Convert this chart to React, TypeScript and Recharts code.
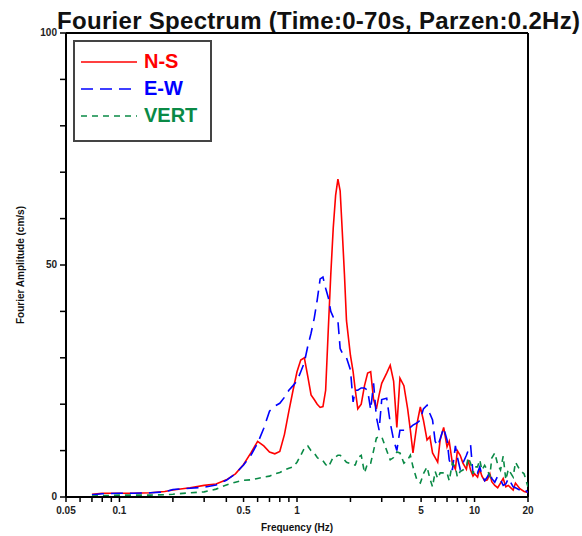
import { LineChart, Line, XAxis, YAxis, ReferenceLine, Legend, Label } from 'recharts'

const freq = [
  0.07, 0.08, 0.1, 0.12, 0.15, 0.18, 0.2, 0.25, 0.3, 0.35, 0.4, 0.45, 0.5, 0.55, 0.6, 0.65, 0.7, 0.75, 0.8,
  0.85, 0.9, 0.95, 1.0, 1.05, 1.1, 1.15, 1.2, 1.25, 1.3, 1.35, 1.4, 1.45, 1.5, 1.55, 1.6, 1.65, 1.7, 1.75,
  1.8, 1.85, 1.9, 2.0, 2.07, 2.13, 2.2, 2.3, 2.4, 2.5, 2.6, 2.7, 2.8, 2.9, 3.0, 3.2, 3.35, 3.5, 3.65, 3.8,
  4.0, 4.2, 4.35, 4.5, 4.75, 4.95, 5.15,
  5.4, 5.6, 5.8, 6.0, 6.2, 6.4, 6.7, 7.0, 7.2, 7.5, 7.8, 8.0, 8.3, 8.6, 9.0, 9.2, 9.5, 9.8, 10, 10.4,
  10.7, 11, 11.4, 11.8, 12.2, 12.5, 13, 13.5, 14, 14.5, 15, 15.5, 16.5, 17, 18, 19, 20,
]

const nsAmp = [
  0.6, 0.8, 0.8, 0.8, 0.9, 1.2, 1.5, 2.0, 2.5, 2.8, 3.7, 5, 7, 9.5, 12, 11, 9.7, 9.3, 9.8,
  13.5, 18.5, 23, 27, 29.5, 30, 26, 22, 21, 20, 19.3, 19.5, 23, 36, 48, 58, 65, 68.5, 66,
  57, 48, 38, 30.5, 27, 23, 19, 20, 24, 26.7, 27, 21, 19, 22, 24.5, 26.7, 28.4, 25, 15, 25.6,
  24, 19, 14.4, 9.5, 16, 19.4, 16.6,
  12.3, 13, 9.5, 8.5, 7.5, 12.3, 15, 10.8, 12, 7.3, 6, 10, 9, 7.3, 6, 8, 5.8, 4.5, 5, 4.3,
  6, 4.5, 3.5, 3.7, 5, 3.3, 2.5, 2, 3, 4, 2.2, 2.5, 1.5, 3, 1.8, 1.2, 1,
]

const ewAmp = [
  0.5, 0.7, 0.8, 0.8, 0.9, 1.1, 1.6, 1.9, 2.1, 2.6, 3.6, 5, 6.9, 9, 11.6, 14.8, 18.5, 19.6, 20.2,
  21.5, 23, 24, 25, 27, 29, 32.5, 35.3, 38.5, 42.5, 47, 47.4, 45, 43, 40, 38.8, 38.3, 38, 32,
  31, 30.5, 30, 27.4, 20.5, 23, 23, 23.5, 23.5, 23, 18.8, 24.5, 17.2, 14.4, 21, 21.3, 16, 12.3, 10, 14.4,
  14.4, 14.4, 15, 15.5, 16, 16.6, 19,
  19.8, 18, 16.6, 12, 11, 12.5, 14.9, 12.3, 8, 5.8, 11, 8.6, 6, 7.3, 9, 10, 11.2, 5, 6, 5.2,
  6.5, 4.8, 3.5, 4.3, 5.5, 4, 3.2, 4.5, 3.7, 2.5, 2.8, 4, 2.2, 2, 1.5, 1.8, 0.9,
]

const vertAmp = [
  0.2, 0.3, 0.4, 0.4, 0.4, 0.5, 0.6, 0.9, 1.1, 1.7, 2.6, 3.2, 3.6, 3.7, 4.0, 4.3, 4.5, 5.0, 5.3,
  5.8, 6.2, 6.5, 7.5, 9, 10.5, 11, 10, 9.5, 8.5, 8, 7.8, 7, 6.5, 7.5, 8.6, 8.6, 9, 9,
  8.5, 8, 7.5, 7.2, 6.9, 6.9, 8.5, 9, 5.2, 7.3, 7.3, 10, 12.7, 13, 13, 10, 8, 8.5, 9.7, 9.5,
  7.3, 8, 9, 6.5, 3.5, 3, 5,
  6.5, 4, 2.2, 5.5, 4, 5.2, 5.2, 5.2, 3.5, 7.3, 6.5, 4.3, 5.5, 5.8, 6.5, 8.5, 7.3, 5, 6.5, 6.5,
  8, 5.8, 6.8, 5.8, 4.5, 8.4, 9.5, 7, 5.8, 8.8, 3.7, 6, 4.3, 7.5, 5.8, 5, 2.2,
]

const xTicks = [
  0.05, 0.06, 0.07, 0.08, 0.09, 0.1, 0.2, 0.3, 0.4, 0.5, 0.6, 0.7, 0.8, 0.9, 1, 2, 3, 4, 5, 6, 7, 8, 9, 10, 20,
]
const xLabels = [0.05, 0.1, 0.5, 1, 5, 10, 20]
const yTicks = [0, 10, 20, 30, 40, 50, 60, 70, 80, 90, 100]
const yLabels = [0, 50, 100]

const seriesInfo = [
  { key: 'ns', name: 'N-S', color: '#ff0000', dash: undefined },
  { key: 'ew', name: 'E-W', color: '#0000ff', dash: '12 7' },
  { key: 'vert', name: 'VERT', color: '#0a8a46', dash: '6 5' },
]

const data = freq.map((f, i) => ({ f, ns: nsAmp[i], ew: ewAmp[i], vert: vertAmp[i] }))

const tickFont = { fontFamily: 'Liberation Sans, Arial, sans-serif', fontSize: 10, fontWeight: 700, fill: '#222' }

const XTick = ({ x, y, payload }: any) => (
  <g>
    <line x1={x} y1={y} x2={x} y2={y + 5} stroke="#000" strokeWidth={1.5} />
    {xLabels.includes(payload.value) && (
      <text x={x} y={y + 17} textAnchor="middle" {...tickFont}>
        {String(payload.value)}
      </text>
    )}
  </g>
)

const YTick = ({ x, y, payload }: any) => (
  <g>
    <line x1={x - 6} y1={y} x2={x} y2={y} stroke="#000" strokeWidth={1.5} />
    {yLabels.includes(payload.value) && (
      <text x={x - 9} y={y + 3} textAnchor="end" {...tickFont}>
        {String(payload.value)}
      </text>
    )}
  </g>
)

const LegendBox = () => (
  <div>
    {seriesInfo.map((s) => (
      <div key={s.key} style={{ display: 'flex', alignItems: 'center', height: 27 }}>
        <svg width={64} height={10}>
          <line x1={6} y1={5} x2={62} y2={5} stroke={s.color} strokeWidth={1.6} strokeDasharray={s.dash} />
        </svg>
        <span
          style={{
            color: s.color,
            fontFamily: 'Liberation Sans, Arial, sans-serif',
            fontWeight: 700,
            fontSize: 20,
            marginLeft: 5,
          }}
        >
          {s.name}
        </span>
      </div>
    ))}
  </div>
)

export default function App() {
  return (
    <div style={{ position: 'absolute', left: 0, top: 0, width: 582, height: 536, background: '#fff' }}>
      <div
        style={{
          position: 'absolute',
          left: 57,
          top: 7,
          fontFamily: 'Liberation Sans, Arial, sans-serif',
          fontSize: 24,
          letterSpacing: 0.3,
          fontWeight: 700,
          color: '#111',
          whiteSpace: 'nowrap',
        }}
      >
        Fourier Spectrum (Time:0-70s, Parzen:0.2Hz)
      </div>
      <LineChart width={582} height={536} data={data} margin={{ top: 33, right: 54, bottom: 19, left: 0 }}>
        <XAxis
          dataKey="f"
          type="number"
          scale="log"
          domain={[0.05, 20]}
          allowDataOverflow
          ticks={xTicks}
          interval={0}
          tick={<XTick />}
          tickLine={false}
          tickSize={0}
          tickMargin={0}
          height={20}
          axisLine={{ stroke: '#000', strokeWidth: 2 }}
        >
          <Label
            content={({ viewBox }: any) => (
              <text
                x={viewBox.x + viewBox.width / 2}
                y={viewBox.y + 34}
                textAnchor="middle"
                {...tickFont}
                fill="#111"
              >
                Frequency (Hz)
              </text>
            )}
          />
        </XAxis>
        <YAxis
          type="number"
          domain={[0, 100]}
          ticks={yTicks}
          interval={0}
          tick={<YTick />}
          tickLine={false}
          tickSize={0}
          tickMargin={0}
          width={66}
          axisLine={{ stroke: '#000', strokeWidth: 2 }}
        >
          <Label
            content={({ viewBox }: any) => (
              <text
                x={viewBox.x + 24}
                y={viewBox.y + viewBox.height / 2}
                textAnchor="middle"
                transform={`rotate(-90 ${viewBox.x + 24} ${viewBox.y + viewBox.height / 2})`}
                {...tickFont}
                fill="#111"
              >
                Fourier Amplitude (cm/s)
              </text>
            )}
          />
        </YAxis>
        <ReferenceLine y={100} stroke="#000" strokeWidth={2} />
        <ReferenceLine x={20} stroke="#000" strokeWidth={2} />
        {seriesInfo.map((s) => (
          <Line
            key={s.key}
            type="linear"
            dataKey={s.key}
            name={s.name}
            stroke={s.color}
            strokeWidth={1.6}
            strokeDasharray={s.dash}
            dot={false}
            isAnimationActive={false}
          />
        ))}
        <Legend
          layout="vertical"
          align="center"
          verticalAlign="middle"
          content={<LegendBox />}
          wrapperStyle={{
            left: 73,
            top: 40,
            width: 135,
            height: 92,
            border: '2px solid #444',
            background: '#fff',
            paddingTop: 6,
            boxSizing: 'content-box',
          }}
        />
      </LineChart>
    </div>
  )
}
